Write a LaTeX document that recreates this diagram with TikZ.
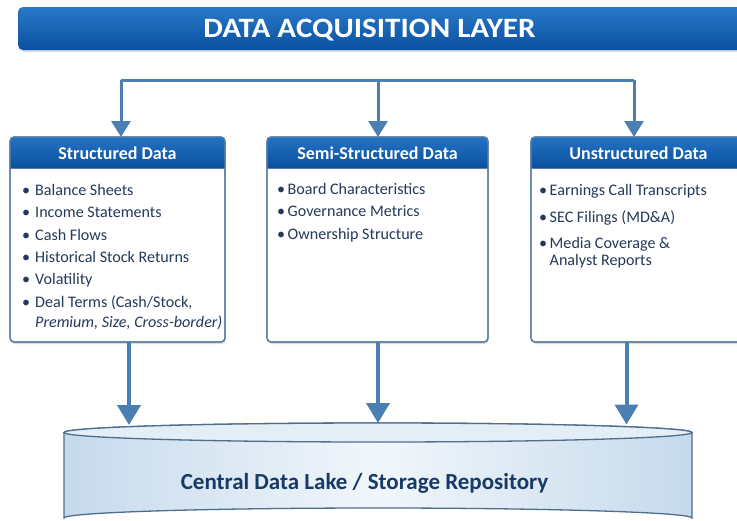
\documentclass[tikz,border=0pt]{standalone}
\usepackage{fontspec}
\setmainfont{Carlito}
\usetikzlibrary{arrows.meta,shadows}

\definecolor{hdrtop}{HTML}{2A78C8}
\definecolor{hdrbot}{HTML}{0A50A0}
\definecolor{boxedge}{HTML}{5A7EA5}
\definecolor{flow}{HTML}{4A7FB1}
\definecolor{ink}{HTML}{25395A}
\definecolor{lakeink}{HTML}{173A66}
\definecolor{lakeedge}{HTML}{4F6E8E}
\definecolor{lakeside}{HTML}{C6DAEC}
\definecolor{lakemid}{HTML}{F1F6FB}
\definecolor{laketop}{HTML}{E4EEF7}

% two-line list entry: first line's baseline is the node's base
\newcommand\twoline[2]{\begin{tabular}[t]{@{}l@{}}#1\\#2\end{tabular}}

\tikzset{
  softshadow/.style={drop shadow={opacity=0.22, shadow xshift=0.8pt, shadow yshift=-2pt, fill=black!60}},
  titlebar/.style={rectangle, rounded corners=5pt, top color=hdrtop, bottom color=hdrbot,
    draw=none, inner sep=0pt, outer sep=0pt, anchor=north west, softshadow},
  titletext/.style={text=white, font=\bfseries\fontsize{28}{30}\selectfont, inner sep=0pt},
  panel/.style={rectangle, rounded corners=4pt, fill=white, draw=boxedge, line width=1.3pt,
    inner sep=0pt, outer sep=0pt, anchor=north west, minimum height=205pt, softshadow},
  paneledge/.style={draw=boxedge, line width=1.3pt, rounded corners=4pt},
  hdrfill/.style={top color=hdrtop!85!hdrbot, bottom color=hdrbot},
  hdrtext/.style={text=white, font=\bfseries\fontsize{18}{20}\selectfont, inner sep=0pt, anchor=base},
  item/.style={text=ink, font=\fontsize{16.1}{20}\selectfont, inner sep=0pt, anchor=base west},
  feed/.style={draw=flow, line width=3pt, -{Triangle[width=19pt,length=16pt]}},
  fan/.style={draw=flow, line width=3pt},
  sink/.style={draw=flow, line width=4pt, -{Triangle[width=23pt,length=20pt]}},
  laketext/.style={text=lakeink, font=\bfseries\fontsize{23}{26}\selectfont, inner sep=0pt, anchor=base},
}

\begin{document}
\begin{tikzpicture}[x=1pt,y=-1pt]
\useasboundingbox (0,0) rectangle (737,520);
\clip (0,0) rectangle (737,520);
\fill[white] (0,0) rectangle (737,520);

% ---- title banner ----
\node[titlebar, minimum width=730pt, minimum height=43pt] (title) at (18,7) {};
\node[titletext, anchor=base] (titlelbl) at (369.5,37.5) {\scalebox{1.11}[1]{DATA ACQUISITION LAYER}};

% ---- fan-out from the banner level to the three source panels ----
\coordinate (fanL) at (121,80);
\coordinate (fanM) at (378,80);
\coordinate (fanR) at (634,80);
\draw[fan, line join=miter] (fanL) -- (fanR);

% ---- source panels ----
\node[panel, minimum width=215pt] (sbox) at (10,137) {};
\node[panel, minimum width=221pt] (mbox) at (267,137) {};
\node[panel, minimum width=215pt] (ubox) at (531,137) {};

\foreach \p in {sbox,mbox,ubox}{
  \begin{scope}
    \clip[rounded corners=4pt] (\p.north west) rectangle (\p.south east);
    \fill[hdrfill] (\p.north west) rectangle ([yshift=-31pt]\p.north east);
  \end{scope}
  \draw[paneledge] (\p.north west) rectangle (\p.south east);
  \draw[boxedge, line width=0.8pt] ([yshift=-31pt]\p.north west) -- ([yshift=-31pt]\p.north east);
}

\node[hdrtext] (shdr) at ([yshift=-22pt]sbox.north) {Structured Data};
\node[hdrtext] (mhdr) at ([yshift=-22pt]mbox.north) {Semi-Structured Data};
\node[hdrtext] (uhdr) at ([yshift=-22pt]ubox.north) {Unstructured Data};

\draw[feed] (fanL) -- (fanL |- sbox.north);
\draw[feed] (fanM) -- (fanM |- mbox.north);
\draw[feed] (fanR) -- (fanR |- ubox.north);

% ---- structured items ----
\node[item] (s1) at (22,195) {\textbullet\hspace{5pt}Balance Sheets};
\node[item] (s2) at (22,217) {\textbullet\hspace{5pt}Income Statements};
\node[item] (s3) at (22,240) {\textbullet\hspace{5pt}Cash Flows};
\node[item] (s4) at (22,262) {\textbullet\hspace{5pt}Historical Stock Returns};
\node[item] (s5) at (22,284) {\textbullet\hspace{5pt}Volatility};
\node[item] (s6) at (22,307) {\twoline{\textbullet\hspace{5pt}Deal Terms (Cash/Stock,}
  {\phantom{\textbullet}\hspace{5pt}\textit{Premium, Size, Cross-border)}}};

% ---- semi-structured items ----
\node[item] (m1) at (277,194) {\textbullet\hspace{2.5pt}Board Characteristics};
\node[item] (m2) at (277,216) {\textbullet\hspace{2.5pt}Governance Metrics};
\node[item] (m3) at (277,239) {\textbullet\hspace{2.5pt}Ownership Structure};

% ---- unstructured items ----
\node[item] (u1) at (539,195) {\textbullet\hspace{2.5pt}Earnings Call Transcripts};
\node[item] (u2) at (539,222) {\textbullet\hspace{2.5pt}SEC Filings (MD\&A)};
\node[item, font=\fontsize{16.1}{17.5}\selectfont] (u3) at (539,248)
  {\twoline{\textbullet\hspace{2.5pt}Media Coverage \&}{\phantom{\textbullet}\hspace{2.5pt}Analyst Reports}};

% ---- central repository (cylinder) ----
\path[left color=lakeside, right color=lakeside, middle color=lakemid, draw=lakeedge, line width=1.3pt]
  (64,432.5) -- (64,518)
  arc[start angle=180, end angle=0, x radius=314pt, y radius=10pt]
  -- (692,432.5)
  arc[start angle=0, end angle=180, x radius=314pt, y radius=9.5pt] -- cycle;
\draw[lakeedge, line width=1.3pt, fill=laketop] (378,432.5) ellipse[x radius=314pt, y radius=9.5pt];
\node[laketext] (lake) at (364.5,489) {Central Data Lake / Storage Repository};

\coordinate (inL) at (129,425);
\coordinate (inM) at (378,423);
\coordinate (inR) at (626.5,424.5);
\draw[sink] (sbox.south -| inL) -- (inL);
\draw[sink] (mbox.south -| inM) -- (inM);
\draw[sink] (ubox.south -| inR) -- (inR);
\end{tikzpicture}
\end{document}
